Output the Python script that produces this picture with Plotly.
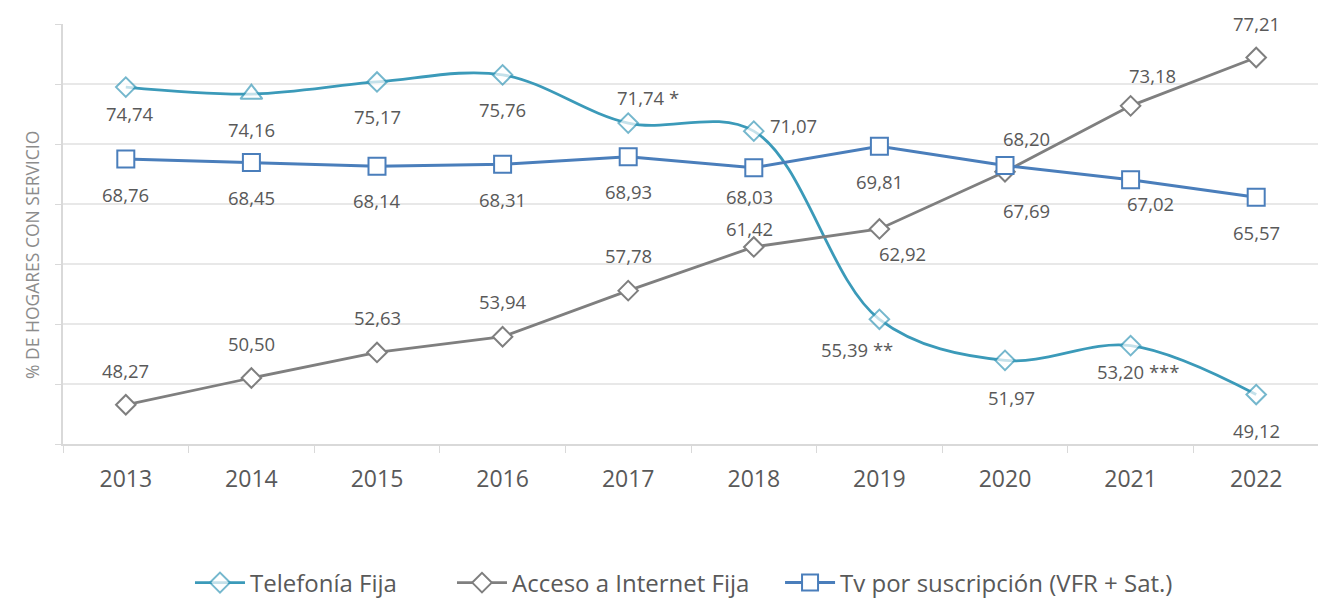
import plotly.graph_objects as go

years = [2013, 2014, 2015, 2016, 2017, 2018, 2019, 2020, 2021, 2022]
telefonia = [74.74, 74.16, 75.17, 75.76, 71.74, 71.07, 55.39, 51.97, 53.20, 49.12]
internet = [48.27, 50.50, 52.63, 53.94, 57.78, 61.42, 62.92, 67.69, 73.18, 77.21]
tv = [68.76, 68.45, 68.14, 68.31, 68.93, 68.03, 69.81, 68.20, 67.02, 65.57]
telefonia_notes = ["", "", "", "", " *", "", " **", "", " ***", ""]

names = ["Telefonía Fija", "Acceso a Internet Fija", "Tv por suscripción (VFR + Sat.)"]

# label offsets in pixels (xshift, yshift)
tel_off = [(4, -26), (0, -35), (0, -35), (0, -35), (20, 26), (40, 6), (-22, -30), (6, -37), (7, -26), (0, -36)]
int_off = [(0, 34), (0, 35), (0, 35), (0, 35), (0, 35), (-4, 18), (23, -25), (21, -39), (22, 30), (0, 34)]
tv_off = [(0, -36), (0, -35), (0, -34), (0, -35), (0, -35), (-4, -29), (0, -35), (21, 27), (20, -24), (0, -35)]

C_TEL = "#3B9AB9"
C_INT = "#7F7F7F"
C_TV = "#4A7EBB"
TXT = "#595959"
FONT = "Open Sans"

fig = go.Figure()
fig.add_trace(go.Scatter(
    x=years, y=telefonia, name=names[0], mode="lines+markers", legend="legend",
    line=dict(color=C_TEL, width=2.8, shape="spline", smoothing=1.0),
    marker=dict(symbol=["diamond", "triangle-up"] + ["diamond"] * 8,
                size=[15, 19] + [15] * 8, color="white",
                line=dict(color=C_TEL, width=2)),
))
fig.add_trace(go.Scatter(
    x=years, y=internet, name=names[1], mode="lines+markers", legend="legend2",
    line=dict(color=C_INT, width=2.8),
    marker=dict(symbol="diamond", size=15, color="white", line=dict(color=C_INT, width=2)),
))
fig.add_trace(go.Scatter(
    x=years, y=tv, name=names[2], mode="lines+markers", legend="legend3",
    line=dict(color=C_TV, width=3),
    marker=dict(symbol="square", size=17, color="white", line=dict(color=C_TV, width=2)),
))

def fmt(v):
    return f"{v:.2f}".replace(".", ",")

annotations = []
for series, offs, notes in [(telefonia, tel_off, telefonia_notes),
                            (internet, int_off, [""] * 10),
                            (tv, tv_off, [""] * 10)]:
    for yr, v, (dx, dy), nt in zip(years, series, offs, notes):
        annotations.append(dict(
            x=yr, y=v, xref="x", yref="y", text=fmt(v) + nt, showarrow=False,
            xshift=dx, yshift=dy, font=dict(family=FONT, size=18.5, color=TXT)))

annotations.append(dict(
    x=0, y=0.45, xref="paper", yref="paper", xshift=-45, text="% DE HOGARES CON SERVICIO",
    textangle=-90, showarrow=False, font=dict(family=FONT, size=17.5, color="#8C8C8C")))

boundaries = [y - 0.5 for y in years] + [years[-1] + 0.5]

leg_common = dict(orientation="h", xanchor="left", y=-0.331, yanchor="middle",
                  font=dict(family=FONT, size=24, color=TXT), itemwidth=50,
                  bgcolor="rgba(0,0,0,0)")

fig.update_layout(
    width=1318, height=590,
    margin=dict(l=55, r=7, t=16, b=154, autoexpand=False),
    paper_bgcolor="white", plot_bgcolor="white",
    font=dict(family=FONT, color=TXT),
    showlegend=True,
    legend=dict(x=0.1011, **leg_common),
    legend2=dict(x=0.3097, **leg_common),
    legend3=dict(x=0.5709, **leg_common),
    annotations=annotations,
)
fig.update_xaxes(
    type="linear", range=[years[0] - 0.5, years[-1] + 0.5], automargin=False,
    tickmode="array", tickvals=years, ticktext=[str(y) for y in years], ticks="",
    minor=dict(tickmode="array", tickvals=boundaries, ticks="outside", ticklen=7,
               tickcolor="#D9D9D9", showgrid=False),
    showline=True, linecolor="#D9D9D9", linewidth=1.5, showgrid=False, zeroline=False,
    tickfont=dict(family=FONT, size=23, color=TXT), ticklabelstandoff=14,
)
fig.update_yaxes(
    range=[45, 80], dtick=5, tick0=45, showticklabels=False, ticks="outside", ticklen=6,
    tickcolor="#D9D9D9", showline=True, linecolor="#D9D9D9", linewidth=1.5, automargin=False,
    showgrid=True, gridcolor="#E8E8E8", gridwidth=1.5, zeroline=False,
)

fig.write_html("out.html")
